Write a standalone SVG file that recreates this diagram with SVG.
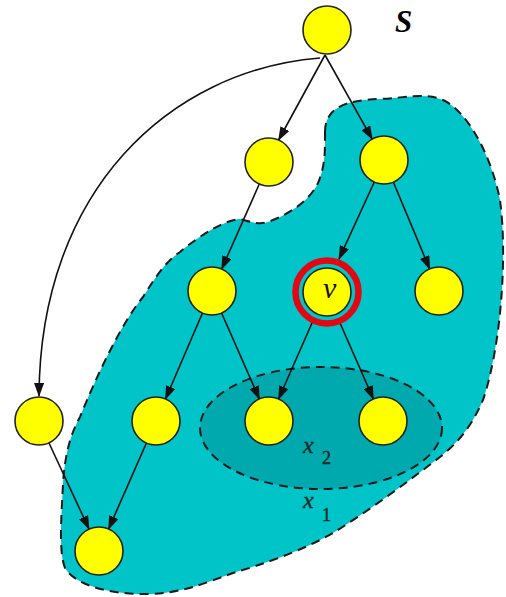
<svg xmlns="http://www.w3.org/2000/svg" width="506" height="597" viewBox="0 0 506 597">
<style>
.region{stroke:#1a1a1a;stroke-width:2;stroke-dasharray:9 6;}
.node{fill:#FFFF00;stroke:#222;stroke-width:1.6;}
.edge{fill:none;stroke:#111;stroke-width:1.6;marker-end:url(#arr);}
.lab{font-family:"Liberation Serif",serif;fill:#142a2c;stroke:#142a2c;stroke-width:0.4;}
</style>
<defs>
<marker id="arr" markerWidth="14" markerHeight="10" refX="13" refY="5" orient="auto" markerUnits="userSpaceOnUse">
<path d="M0,0 L14,5 L0,10 Z" fill="#111"/>
</marker>
</defs>
<rect width="506" height="597" fill="#fff"/>
<g id="region-x1">
<path class="region" fill="#00C4C8" d="M 325 132 C 325 108, 345 100, 380 99 C 405 98, 425 92, 443 100 C 465 110, 490 150, 500 200 C 508 260, 500 350, 483 400 C 470 430, 455 445, 440 457 C 410 480, 370 510, 333 533 C 300 552, 260 565, 233 573 C 200 585, 180 593, 150 594 C 110 595, 75 585, 65 568 C 58 550, 62 510, 63 483 C 65 455, 70 435, 80 417 C 95 380, 120 325, 143 297 C 155 278, 165 262, 180 252 C 200 235, 225 220, 240 219 C 252 222, 258 225, 268 222 C 290 214, 310 200, 318 183 C 326 165, 325 145, 325 132 Z"/>
<text class="lab" x="303" y="508" font-size="24" font-style="italic">x</text>
<text class="lab" x="322" y="521" font-size="18">1</text>
</g>
<g id="region-x2">
<ellipse class="region" fill="#00A9AD" cx="321" cy="428" rx="121" ry="61"/>
<text class="lab" x="303" y="453" font-size="24" font-style="italic">x</text>
<text class="lab" x="322" y="464" font-size="18">2</text>
</g>
<g id="connectors">
<path class="edge" d="M 320 58 C 170 70, 40 190, 39 396"/>
<path class="edge" d="M 325 55 L 278.6 140"/>
<path class="edge" d="M 325 55 L 372.2 139.1"/>
<path class="edge" d="M 259.3 184 L 221.7 269"/>
<path class="edge" d="M 374.3 182 L 339 259"/>
<path class="edge" d="M 393.3 182 L 429.7 269"/>
<path class="edge" d="M 202.5 313 L 165.5 399"/>
<path class="edge" d="M 221.6 313 L 259.4 399"/>
<path class="edge" d="M 312 323 L 278.6 399"/>
<path class="edge" d="M 340 323 L 373.4 399"/>
<path class="edge" d="M 49 443 L 89 529"/>
<path class="edge" d="M 146.4 443 L 108.6 529"/>
</g>
<g id="node-s"><circle class="node" cx="327" cy="30" r="24"/></g>
<text id="label-s" x="395" y="32" font-family="Liberation Serif,serif" font-size="31" font-weight="bold" font-style="italic" fill="#000">S</text>
<g id="node-a"><circle class="node" cx="269" cy="162" r="24"/></g>
<g id="node-b"><circle class="node" cx="384" cy="160" r="24"/></g>
<g id="node-c"><circle class="node" cx="212" cy="291" r="24"/></g>
<g id="node-v">
<circle class="node" cx="327" cy="292" r="24"/>
<circle cx="327" cy="292" r="31.5" fill="none" stroke="#E30613" stroke-width="6.5"/>
<text x="323" y="298" font-family="Liberation Serif,serif" font-size="30" font-style="italic" fill="#111">v</text>
</g>
<g id="node-d"><circle class="node" cx="439" cy="291" r="24"/></g>
<g id="node-e"><circle class="node" cx="39" cy="421" r="24"/></g>
<g id="node-f"><circle class="node" cx="156" cy="421" r="24"/></g>
<g id="node-g"><circle class="node" cx="269" cy="421" r="24"/></g>
<g id="node-h"><circle class="node" cx="383" cy="421" r="24"/></g>
<g id="node-i"><circle class="node" cx="99" cy="551" r="24"/></g>
</svg>
